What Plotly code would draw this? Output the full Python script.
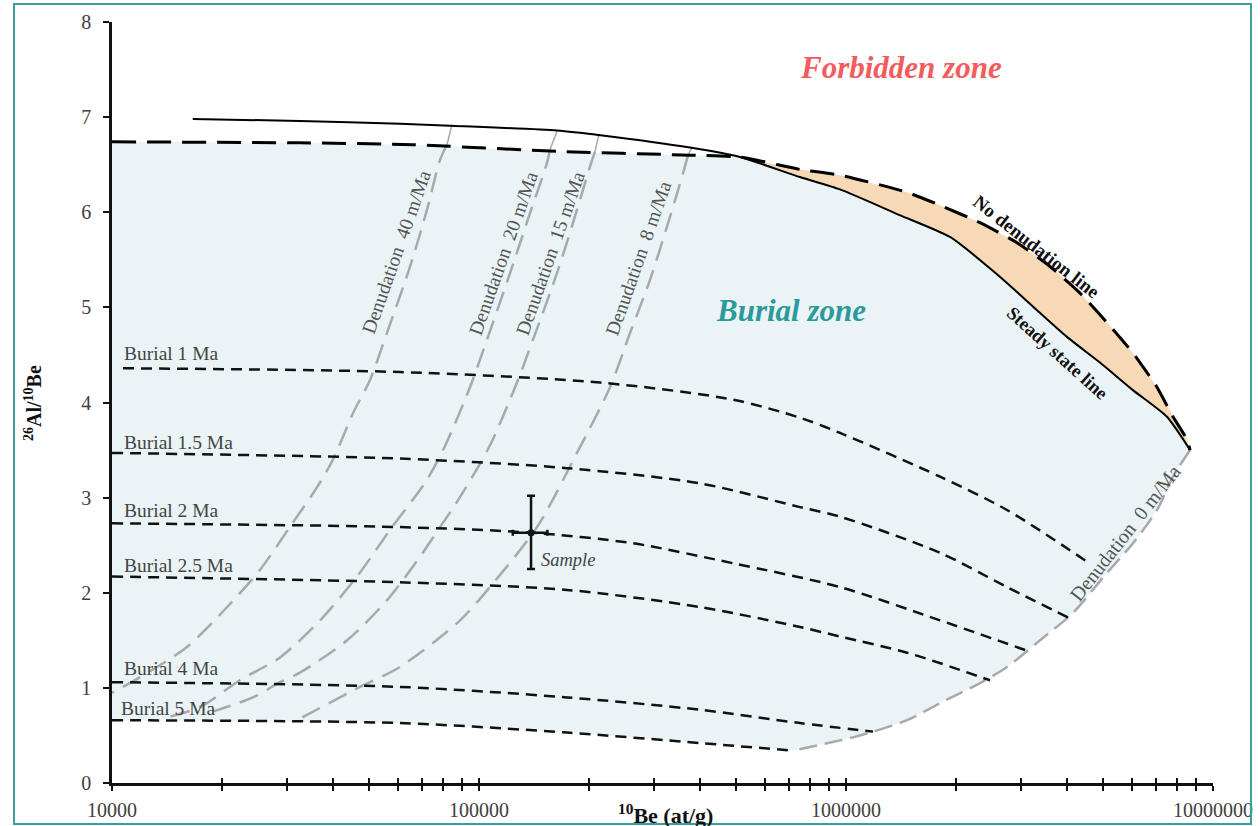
import plotly.graph_objects as go

# ---------------- data ----------------
# Steady state line (solid)
steady_x = [16600, 32500, 60900, 83400, 163000, 214000, 376000, 514000, 749000, 963000,
            1400000, 1920000, 2630000, 3230000, 4000000, 4920000, 6050000, 7490000, 8660000]
steady_y = [6.98, 6.96, 6.93, 6.91, 6.86, 6.81, 6.68, 6.58, 6.37, 6.24,
            5.97, 5.74, 5.32, 5.01, 4.69, 4.42, 4.13, 3.85, 3.50]

# No denudation line (dashed)
nodenud_x = [10000, 32500, 66100, 163000, 376000, 514000, 749000, 963000, 1466000, 1838000,
             2318000, 2924000, 3597000, 4342000, 5143000, 6053000, 7038000, 7781000, 8497000, 8660000]
nodenud_y = [6.74, 6.73, 6.71, 6.64, 6.60, 6.58, 6.45, 6.39, 6.21, 6.06,
             5.89, 5.68, 5.43, 5.15, 4.84, 4.52, 4.16, 3.85, 3.61, 3.50]

# Denudation lines (first point on steady-state line, second on no-denudation line)
den40_x = [84400, 81800, 78300, 72200, 64900, 56100, 50500, 45400, 40000, 36200, 30500, 25300, 20600, 16000, 11900, 10000]
den40_y = [6.92, 6.71, 6.55, 6.03, 5.43, 4.73, 4.24, 3.89, 3.40, 3.11, 2.69, 2.24, 1.85, 1.43, 1.11, 0.95]
den20_x = [163100, 156100, 153200, 137700, 121500, 105100, 94500, 80500, 72200, 57200, 46500, 36900, 28700, 22300, 17400, 14100]
den20_y = [6.85, 6.66, 6.52, 5.99, 5.36, 4.66, 4.16, 3.53, 3.19, 2.66, 2.17, 1.71, 1.32, 1.08, 0.80, 0.69]
den15_x = [212300, 207100, 200700, 180400, 163100, 140300, 126900, 106500, 86600, 78300, 69100, 56100, 43700, 32500, 28700, 24200, 18800]
den15_y = [6.82, 6.64, 6.48, 5.89, 5.36, 4.66, 4.21, 3.53, 2.94, 2.69, 2.38, 1.92, 1.50, 1.16, 1.06, 0.90, 0.75]
den8_x = [380500, 371200, 359700, 325300, 292400, 257900, 227500, 184900, 143900, 109200, 88800, 60900, 47400, 31900]
den8_y = [6.68, 6.60, 6.41, 5.85, 5.29, 4.73, 4.16, 3.47, 2.69, 2.10, 1.71, 1.22, 1.01, 0.66]
den0_x = [8658000, 7781000, 7038000, 6053000, 5143000, 4155000, 3378000, 2746000, 2318000, 1804000, 1466000, 1185000, 1045000, 717100]
den0_y = [3.50, 3.22, 2.87, 2.52, 2.21, 1.79, 1.50, 1.22, 1.05, 0.84, 0.66, 0.54, 0.48, 0.34]

# Burial lines
bur1_x = [10710, 60920, 213600, 492100, 749200, 963000, 1804000, 2746000, 4564000]
bur1_y = [4.36, 4.32, 4.21, 4.03, 3.84, 3.68, 3.22, 2.87, 2.32]
bur15_x = [10000, 60920, 173700, 400200, 749200, 963000, 1804000, 2746000, 4077000]
bur15_y = [3.47, 3.41, 3.31, 3.15, 2.90, 2.80, 2.42, 2.06, 1.73]
bur2_x = [10000, 60920, 140300, 262800, 492100, 963000, 1804000, 3171000]
bur2_y = [2.73, 2.69, 2.63, 2.52, 2.31, 2.06, 1.71, 1.38]
bur25_x = [10000, 60920, 173700, 400200, 749200, 963000, 1466000, 2468000]
bur25_y = [2.17, 2.11, 2.03, 1.85, 1.64, 1.54, 1.37, 1.08]
bur4_x = [10000, 60920, 173700, 400200, 749200, 1185000]
bur4_y = [1.06, 1.01, 0.90, 0.77, 0.63, 0.54]
bur5_x = [10000, 60920, 173700, 400200, 717100]
bur5_y = [0.66, 0.63, 0.53, 0.42, 0.34]

# Sample
sample_x = [138600]
sample_y = [2.63]
sample_ex = [15000]
sample_ey_plus = [0.39]
sample_ey_minus = [0.38]

x_major_ticks = [1e4, 1e5, 1e6, 1e7]
x_major_text = ["10000", "100000", "1000000", "10000000"]
x_minor_ticks = [2e4, 3e4, 4e4, 5e4, 6e4, 7e4, 8e4, 9e4,
                 2e5, 3e5, 4e5, 5e5, 6e5, 7e5, 8e5, 9e5,
                 2e6, 3e6, 4e6, 5e6, 6e6, 7e6, 8e6, 9e6]
y_ticks = [0, 1, 2, 3, 4, 5, 6, 7, 8]

# ---------------- styles ----------------
FONT = "Liberation Serif"
GRAY = "#a9a9a9"
BLUE_FILL = "#eaf4f6"
ORANGE_FILL = "#f7d9b6"

fig = go.Figure()

# burial zone fill
zone_x = nodenud_x + den0_x + bur5_x[::-1]
zone_y = nodenud_y + den0_y + bur5_y[::-1]
fig.add_trace(go.Scatter(x=zone_x, y=zone_y, fill="toself", fillcolor=BLUE_FILL,
                         mode="none", hoverinfo="skip", showlegend=False))

# forbidden wedge fill (between no-denudation and steady-state lines)
cross = 514000
ox = [v for v in nodenud_x if v >= cross] + [v for v in steady_x if v >= cross][::-1]
oy = [nodenud_y[i] for i, v in enumerate(nodenud_x) if v >= cross] + \
     [steady_y[i] for i, v in enumerate(steady_x) if v >= cross][::-1]
fig.add_trace(go.Scatter(x=ox, y=oy, fill="toself", fillcolor=ORANGE_FILL,
                         mode="none", hoverinfo="skip", showlegend=False))

# denudation lines
for dx, dy in [(den40_x, den40_y), (den20_x, den20_y), (den15_x, den15_y), (den8_x, den8_y)]:
    fig.add_trace(go.Scatter(x=dx[:2], y=dy[:2], mode="lines",
                             line=dict(color=GRAY, width=1.5), showlegend=False, hoverinfo="skip"))
    fig.add_trace(go.Scatter(x=dx[1:], y=dy[1:], mode="lines",
                             line=dict(color=GRAY, width=2.5, dash="20px,10px", shape="spline", smoothing=0.8),
                             showlegend=False, hoverinfo="skip"))
fig.add_trace(go.Scatter(x=den0_x, y=den0_y, mode="lines",
                         line=dict(color=GRAY, width=2.5, dash="18px,8px", shape="spline", smoothing=0.8),
                         showlegend=False, hoverinfo="skip"))

# burial lines
for bx, by in [(bur1_x, bur1_y), (bur15_x, bur15_y), (bur2_x, bur2_y),
               (bur25_x, bur25_y), (bur4_x, bur4_y), (bur5_x, bur5_y)]:
    fig.add_trace(go.Scatter(x=bx, y=by, mode="lines",
                             line=dict(color="#111111", width=2.5, dash="11px,7px", shape="spline", smoothing=0.8),
                             showlegend=False, hoverinfo="skip"))

# steady state and no-denudation lines
fig.add_trace(go.Scatter(x=steady_x, y=steady_y, mode="lines",
                         line=dict(color="#000000", width=2, shape="spline", smoothing=0.6),
                         showlegend=False, hoverinfo="skip"))
fig.add_trace(go.Scatter(x=nodenud_x, y=nodenud_y, mode="lines",
                         line=dict(color="#000000", width=3, dash="24px,11px", shape="spline", smoothing=0.5),
                         showlegend=False, hoverinfo="skip"))

# sample
fig.add_trace(go.Scatter(x=sample_x, y=sample_y, mode="markers",
                         marker=dict(color="#111111", size=7),
                         error_x=dict(type="data", array=sample_ex, color="#111111", thickness=2.5, width=3),
                         error_y=dict(type="data", array=sample_ey_plus, arrayminus=sample_ey_minus,
                                      color="#111111", thickness=2.5, width=4),
                         showlegend=False, hoverinfo="skip"))

# ---------------- layout ----------------
W, H = 1260, 826
L, R, T, B = 112, 1213, 22, 783


def P(px, py):
    return (px - L) / (R - L), (B - py) / (B - T)


annotations = []


def note(text, px, py, size=16, color="#444444", angle=0, xanchor="center", yanchor="middle"):
    x, y = P(px, py)
    annotations.append(dict(text=text, x=x, y=y, xref="paper", yref="paper", showarrow=False,
                            textangle=angle, xanchor=xanchor, yanchor=yanchor,
                            font=dict(family=FONT, size=size, color=color)))


note("<b><i>Forbidden zone</i></b>", 901, 67, size=31, color="#f25c5c")
note("<b><i>Burial zone</i></b>", 791, 310, size=31, color="#2b9a9a")
note("<b>No denudation line</b>", 1036, 247, size=19, color="#111111", angle=38)
note("<b>Steady state line</b>", 1057, 353, size=18.5, color="#111111", angle=42)
note("Denudation  40 m/Ma", 397, 252, size=19.5, color="#555555", angle=-70.5)
note("Denudation  20 m/Ma", 503, 253, size=19.5, color="#555555", angle=-70.5)
note("Denudation  15 m/Ma", 550, 253, size=19.5, color="#555555", angle=-70.5)
note("Denudation  8 m/Ma", 638, 258, size=19.5, color="#555555", angle=-70.5)
note("Denudation  0 m/Ma", 1125, 533, size=20, color="#555555", angle=-52)
note("Burial 1 Ma", 122, 353, size=19.5, xanchor="left")
note("Burial 1.5 Ma", 122, 442, size=19.5, xanchor="left")
note("Burial 2 Ma", 122, 510, size=19.5, xanchor="left")
note("Burial 2.5 Ma", 122, 566, size=19.5, xanchor="left")
note("Burial 4 Ma", 122, 668, size=19.5, xanchor="left")
note("Burial 5 Ma", 119, 708, size=19.5, xanchor="left")
note("<i>Sample</i>", 539, 560, size=18.5, xanchor="left")
note("<b><sup>10</sup>Be (at/g)</b>", 665, 814, size=22, color="#111111")
note("<b><sup>26</sup>Al/<sup>10</sup>Be</b>", 33, 403, size=20, color="#111111", angle=-90)

x0, y0 = P(14, 824)
x1, y1 = P(1251, 4)

fig.update_layout(
    autosize=True,
    margin=dict(l=L, r=W - R, t=T, b=H - B, autoexpand=False),
    paper_bgcolor="white", plot_bgcolor="white",
    font=dict(family=FONT, size=20, color="#404040"),
    showlegend=False,
    annotations=annotations,
    shapes=[dict(type="rect", xref="paper", yref="paper", x0=x0, y0=y0, x1=x1, y1=y1,
                 line=dict(color="#3a9fa0", width=2), fillcolor="rgba(0,0,0,0)", layer="above")],
    xaxis=dict(type="log", range=[4, 7], tickvals=x_major_ticks, ticktext=x_major_text,
               ticks="outside", ticklen=5, tickwidth=2, tickcolor="#111111",
               minor=dict(tickvals=x_minor_ticks, ticks="outside", ticklen=5, tickwidth=2,
                          tickcolor="#111111", showgrid=False),
               showline=True, linecolor="#111111", linewidth=2.5, showgrid=False, zeroline=False,
               ticklabelstandoff=2, tickfont=dict(family=FONT, size=20, color="#404040")),
    xaxis2=dict(type="log", range=[4, 7], tickvals=x_major_ticks + x_minor_ticks,
                overlaying="x", side="bottom", anchor="y",
                ticks="inside", ticklen=5, tickwidth=2, tickcolor="#111111",
                showline=False, showgrid=False, zeroline=False, showticklabels=False),
    yaxis=dict(range=[0, 8], tickvals=y_ticks, ticks="outside", ticklen=6, tickwidth=2,
               tickcolor="#111111", showline=True, linecolor="#111111", linewidth=2.5,
               showgrid=False, zeroline=False, ticklabelstandoff=8,
               tickfont=dict(family=FONT, size=20, color="#404040")),
)

# invisible trace to activate xaxis2 (inside half of the crossing ticks)
fig.add_trace(go.Scatter(x=[1e4], y=[0], xaxis="x2", mode="markers", marker=dict(opacity=0),
                         showlegend=False, hoverinfo="skip"))

post = ("document.documentElement.style.margin='0';document.body.style.margin='0';"
        "document.documentElement.style.overflow='hidden';document.body.style.overflow='hidden';"
        "var gd=document.getElementById('{plot_id}');gd.style.position='fixed';"
        "gd.style.left='0px';gd.style.top='0px';gd.style.width='100vw';gd.style.height='100vh';"
        "Plotly.Plots.resize(gd);")
fig.write_html("out.html", config={"displayModeBar": False, "responsive": True},
               default_width="100vw", default_height="100vh", post_script=post)
